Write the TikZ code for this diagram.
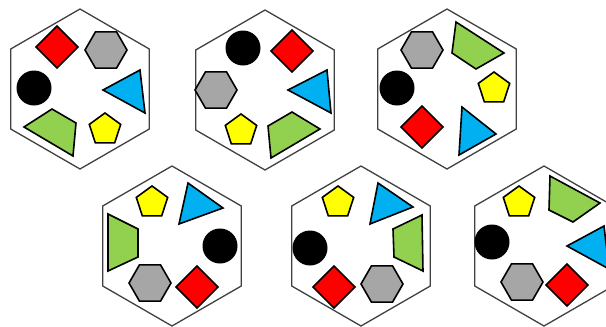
\documentclass[tikz,border=0pt]{standalone}
\definecolor{cred}{HTML}{FF0000}
\definecolor{cgray}{HTML}{A6A6A6}
\definecolor{cblue}{HTML}{00B0F0}
\definecolor{cgreen}{HTML}{92D050}
\definecolor{cyel}{HTML}{FFFF00}
\definecolor{cedge}{HTML}{404040}
\tikzset{
  sh/.style={draw=black, line width=1.6pt, line join=miter},
  hexout/.style={draw=cedge, line width=1.3pt},
  pics/bighex/.style={code={\draw[hexout] (90:80)--(150:80)--(210:80)--(270:80)--(330:80)--(30:80)--cycle;}},
  pics/dia/.style={code={\draw[sh,fill=cred] (0,-21)--(21,0)--(0,21)--(-21,0)--cycle;}},
  pics/hexa/.style={code={\draw[sh,fill=cgray] (0:21)--(60:21)--(120:21)--(180:21)--(240:21)--(300:21)--cycle;}},
  pics/pent/.style={code={\draw[sh,fill=cyel] (-90:16.5)--(-18:16.5)--(54:16.5)--(126:16.5)--(198:16.5)--cycle;}},
  pics/dot/.style={code={\fill[black] (0,0) circle (17.5);}},
}
\begin{document}
\begin{tikzpicture}[x=1pt,y=-1pt]
\useasboundingbox (0,0) rectangle (606,327);
\clip (0,0) rectangle (606,327);
% hexagon 1
\pic at (80,89) {bighex};
\pic at (57,47) {dia};
\pic at (106,50) {hexa};
\pic at (34,88) {dot};
\draw[sh,fill=cblue] (103,90)--(140,70)--(145,113)--cycle;
\draw[sh,fill=cgreen] (24,127)--(52,109)--(76,123)--(73,156)--cycle;
\pic at (105,129.5) {pent};
% hexagon 2
\pic at (265,90) {bighex};
\pic at (243,48) {dot};
\pic at (292,51) {dia};
\pic at (216,90) {hexa};
\draw[sh,fill=cblue] (288,90)--(327,70)--(331,113)--cycle;
\pic at (241,130.5) {pent};
\draw[sh,fill=cgreen] (268,126)--(292,112)--(320,129)--(271,158)--cycle;
% hexagon 3
\pic at (447,89) {bighex};
\pic at (422,50) {hexa};
\draw[sh,fill=cgreen] (456,22)--(504,53)--(476,69)--(452,53)--cycle;
\pic at (397,88) {dot};
\pic at (494,88.5) {pent};
\pic at (422,127) {dia};
\draw[sh,fill=cblue] (462,107)--(496,134)--(459,155)--cycle;
% hexagon 4
\pic at (172,246) {bighex};
\pic at (152,202.5) {pent};
\draw[sh,fill=cblue] (188,183)--(223,208)--(179,224)--cycle;
\draw[sh,fill=cgreen] (108,214)--(138,229)--(138,257)--(108,271)--cycle;
\pic at (220,246) {dot};
\pic at (150,283) {hexa};
\pic at (197,287) {dia};
% hexagon 5
\pic at (361,246) {bighex};
\pic at (338,202.5) {pent};
\draw[sh,fill=cblue] (378,183)--(413,207)--(370,224)--cycle;
\draw[sh,fill=cgreen] (422,215)--(423,271)--(394,257)--(393,229)--cycle;
\pic at (310,248) {dot};
\pic at (334,287) {dia};
\pic at (382,284) {hexa};
% hexagon 6
\pic at (544,246) {bighex};
\pic at (519,202.5) {pent};
\draw[sh,fill=cgreen] (550,176)--(600,203)--(573,222)--(549,210)--cycle;
\draw[sh,fill=cblue] (567,246)--(604,226)--(609,269)--cycle;
\pic at (492,242) {dot};
\pic at (522,282) {hexa};
\pic at (567,285) {dia};
\end{tikzpicture}
\end{document}
